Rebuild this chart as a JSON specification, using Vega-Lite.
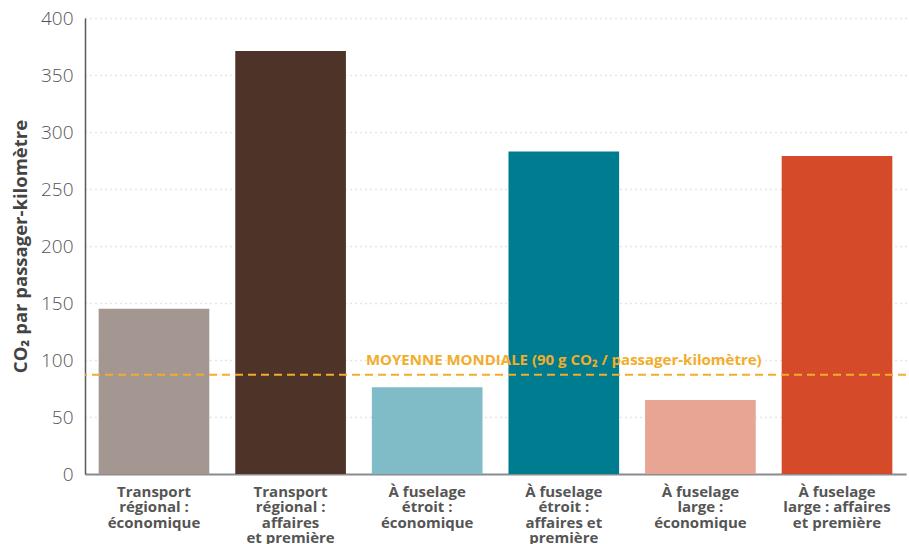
{
  "$schema": "https://vega.github.io/schema/vega-lite/v6.json",
  "width": 821,
  "height": 456,
  "autosize": {"type": "none"},
  "padding": {"left": 85, "top": 18, "right": 3, "bottom": 70},
  "background": "white",
  "config": {
    "view": {"stroke": null},
    "font": "Open Sans"
  },
  "datasets": {
    "bars": [
      {"type": "Transport|régional :|économique", "value": 145, "color": "#a49792"},
      {"type": "Transport|régional :|affaires|et première", "value": 371, "color": "#4e3328"},
      {"type": "À fuselage|étroit :|économique", "value": 76, "color": "#80bcc8"},
      {"type": "À fuselage|étroit :|affaires et|première", "value": 283, "color": "#007c91"},
      {"type": "À fuselage|large :|économique", "value": 65, "color": "#e8a594"},
      {"type": "À fuselage|large : affaires|et première", "value": 279, "color": "#d54a29"}
    ],
    "avg": [
      {"type": "À fuselage|étroit :|affaires et|première", "value": 87, "label": "MOYENNE MONDIALE (90 g CO₂ / passager-kilomètre)"}
    ]
  },
  "layer": [
    {
      "data": {"name": "bars"},
      "mark": {"type": "bar"},
      "encoding": {
        "x": {
          "field": "type", "type": "nominal", "sort": null,
          "scale": {"paddingInner": 0.19, "paddingOuter": 0.1},
          "axis": {
            "title": null,
            "labelAngle": 0,
            "labelExpr": "split(datum.label, '|')",
            "labelFont": "Open Sans",
            "labelFontSize": 15,
            "labelFontWeight": "bold",
            "labelColor": "#555555",
            "labelLineHeight": 15.5,
            "labelPadding": 10,
            "ticks": false,
            "domainColor": "#8a8c8e",
            "domainWidth": 2
          }
        },
        "y": {
          "field": "value", "type": "quantitative",
          "scale": {"domain": [0, 400]},
          "axis": {
            "title": "CO₂ par passager-kilomètre",
            "titleFont": "Open Sans",
            "titleFontSize": 18.5,
            "titleFontWeight": "bold",
            "titleColor": "#444444",
            "titlePadding": 10,
            "values": [0, 50, 100, 150, 200, 250, 300, 350, 400],
            "labelFont": "Open Sans",
            "labelFontSize": 19,
            "labelFontWeight": 300,
            "labelColor": "#555555",
            "labelPadding": 12,
            "ticks": false,
            "domainColor": "#58595b",
            "domainWidth": 1.5,
            "grid": true,
            "gridColor": "#cccccc",
            "gridDash": [1, 4],
            "gridWidth": 1.5
          }
        },
        "color": {"field": "color", "type": "nominal", "scale": null, "legend": null}
      }
    },
    {
      "data": {"name": "avg"},
      "mark": {"type": "rule", "color": "#f1ad2b", "strokeWidth": 2, "strokeDash": [8, 5]},
      "encoding": {"y": {"field": "value", "type": "quantitative"}}
    },
    {
      "data": {"name": "avg"},
      "mark": {"type": "text", "color": "#f1ad2b", "font": "Open Sans", "fontSize": 15, "fontWeight": "bold", "dy": -15, "align": "center"},
      "encoding": {
        "x": {"field": "type", "type": "nominal", "sort": null},
        "y": {"field": "value", "type": "quantitative"},
        "text": {"field": "label"}
      }
    }
  ]
}
